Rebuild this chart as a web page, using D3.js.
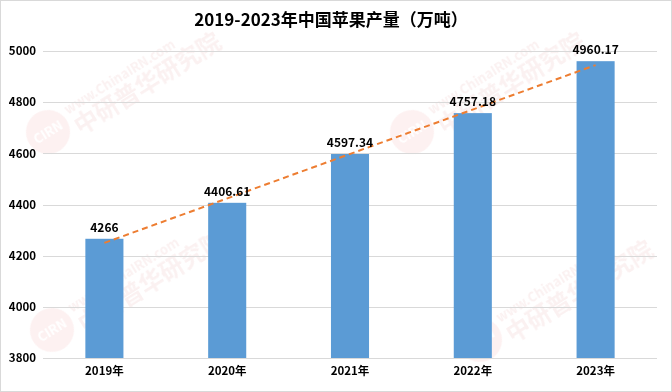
<!DOCTYPE html>
<html><head><meta charset="utf-8">
<script src="https://cdn.jsdelivr.net/npm/d3@7/dist/d3.min.js"></script>
<style>html,body{margin:0;padding:0;background:#fff;}svg{display:block;}</style>
</head><body>
<svg id="c" width="672" height="392"></svg>
<script>
const categories = ["2019年","2020年","2021年","2022年","2023年"];
const values = [4266, 4406.61, 4597.34, 4757.18, 4960.17];
const valueLabels = ["4266","4406.61","4597.34","4757.18","4960.17"];
const yTicks = [3800, 4000, 4200, 4400, 4600, 4800, 5000];
const trendCats = ["2019年","2023年"];
const trendValues = [4250, 4945];
const title = "2019-2023年中国苹果产量（万吨）";

const svg = d3.select("#c");
const W = 672, H = 392;
const m = {left: 43, right: 15, top: 51, bottom: 34};
const font = "'Noto Sans CJK SC','Noto Sans',sans-serif";

svg.append("rect").attr("x",0.5).attr("y",0.5).attr("width",W-1).attr("height",H-1)
  .attr("fill","#fff").attr("stroke","#d9d9d9");

// faint watermarks
const wm = svg.append("g").attr("opacity",0.07);
[[48,132],[412,132],[52,330],[480,340]].forEach(([x,y])=>{
  const g = wm.append("g").attr("transform",`translate(${x},${y}) rotate(-32)`);
  g.append("circle").attr("cx",0).attr("cy",0).attr("r",22).attr("fill","#e03030");
  g.append("text").attr("x",0).attr("y",5).attr("text-anchor","middle").attr("fill","#fff")
    .attr("font-family",font).attr("font-weight","bold").attr("font-size",13).text("CIRN");
  g.append("text").attr("x",26).attr("y",-4).attr("fill","#c03030")
    .attr("font-family",font).attr("font-weight","bold").attr("font-size",13).text("www.ChinaIRN.com");
  g.append("text").attr("x",26).attr("y",20).attr("fill","#c03030")
    .attr("font-family",font).attr("font-weight","bold").attr("font-size",24).text("中研普华研究院");
});

const x = d3.scaleBand().domain(categories).range([m.left, W - m.right]).paddingInner(0.69).paddingOuter(0.345);
const y = d3.scaleLinear().domain([3800, 5000]).range([H - m.bottom, m.top]);

// gridlines
svg.append("g").selectAll("line").data(yTicks).join("line")
  .attr("x1", m.left).attr("x2", W - m.right)
  .attr("y1", d => Math.round(y(d)) + 0.5).attr("y2", d => Math.round(y(d)) + 0.5)
  .attr("stroke", "#d9d9d9").attr("stroke-width", 1);

// y axis labels
const yAxis = d3.axisLeft(y).tickValues(yTicks).tickFormat(d3.format("d")).tickSize(0).tickPadding(7);
const gy = svg.append("g").attr("transform", `translate(${m.left},0)`).call(yAxis);
gy.select(".domain").remove();
gy.selectAll("text").attr("font-family", font).attr("font-weight","bold").attr("font-size", 11.5).attr("fill","#000");

// x axis labels
const xAxis = d3.axisBottom(x).tickSize(0).tickPadding(9);
const gx = svg.append("g").attr("transform", `translate(0,${H - m.bottom})`).call(xAxis);
gx.select(".domain").remove();
gx.selectAll("text").attr("font-family", font).attr("font-weight","bold").attr("font-size", 11.5).attr("fill","#000");

// bars
svg.append("g").selectAll("rect").data(values).join("rect")
  .attr("x", (d,i) => x(categories[i])).attr("width", x.bandwidth())
  .attr("y", d => y(d)).attr("height", d => y(3800) - y(d))
  .attr("fill", "#5b9bd5");

// trend line
const line = d3.line().x((d,i) => x(trendCats[i]) + x.bandwidth()/2).y(d => y(d));
svg.append("path").datum(trendValues).attr("d", line)
  .attr("fill","none").attr("stroke","#ed7d31").attr("stroke-width",2).attr("stroke-dasharray","6,4");

// value labels
svg.append("g").selectAll("text").data(values).join("text")
  .attr("x", (d,i) => x(categories[i]) + x.bandwidth()/2)
  .attr("y", d => y(d) - 7)
  .attr("text-anchor","middle").attr("font-family", font).attr("font-weight","bold")
  .attr("font-size", 12).attr("fill","#000")
  .text((d,i) => valueLabels[i]);

// title
svg.append("text").attr("x", 331).attr("y", 26).attr("text-anchor","middle")
  .attr("font-family", font).attr("font-weight","bold").attr("font-size", 17).attr("fill","#000")
  .text(title);
</script>
</body></html>
